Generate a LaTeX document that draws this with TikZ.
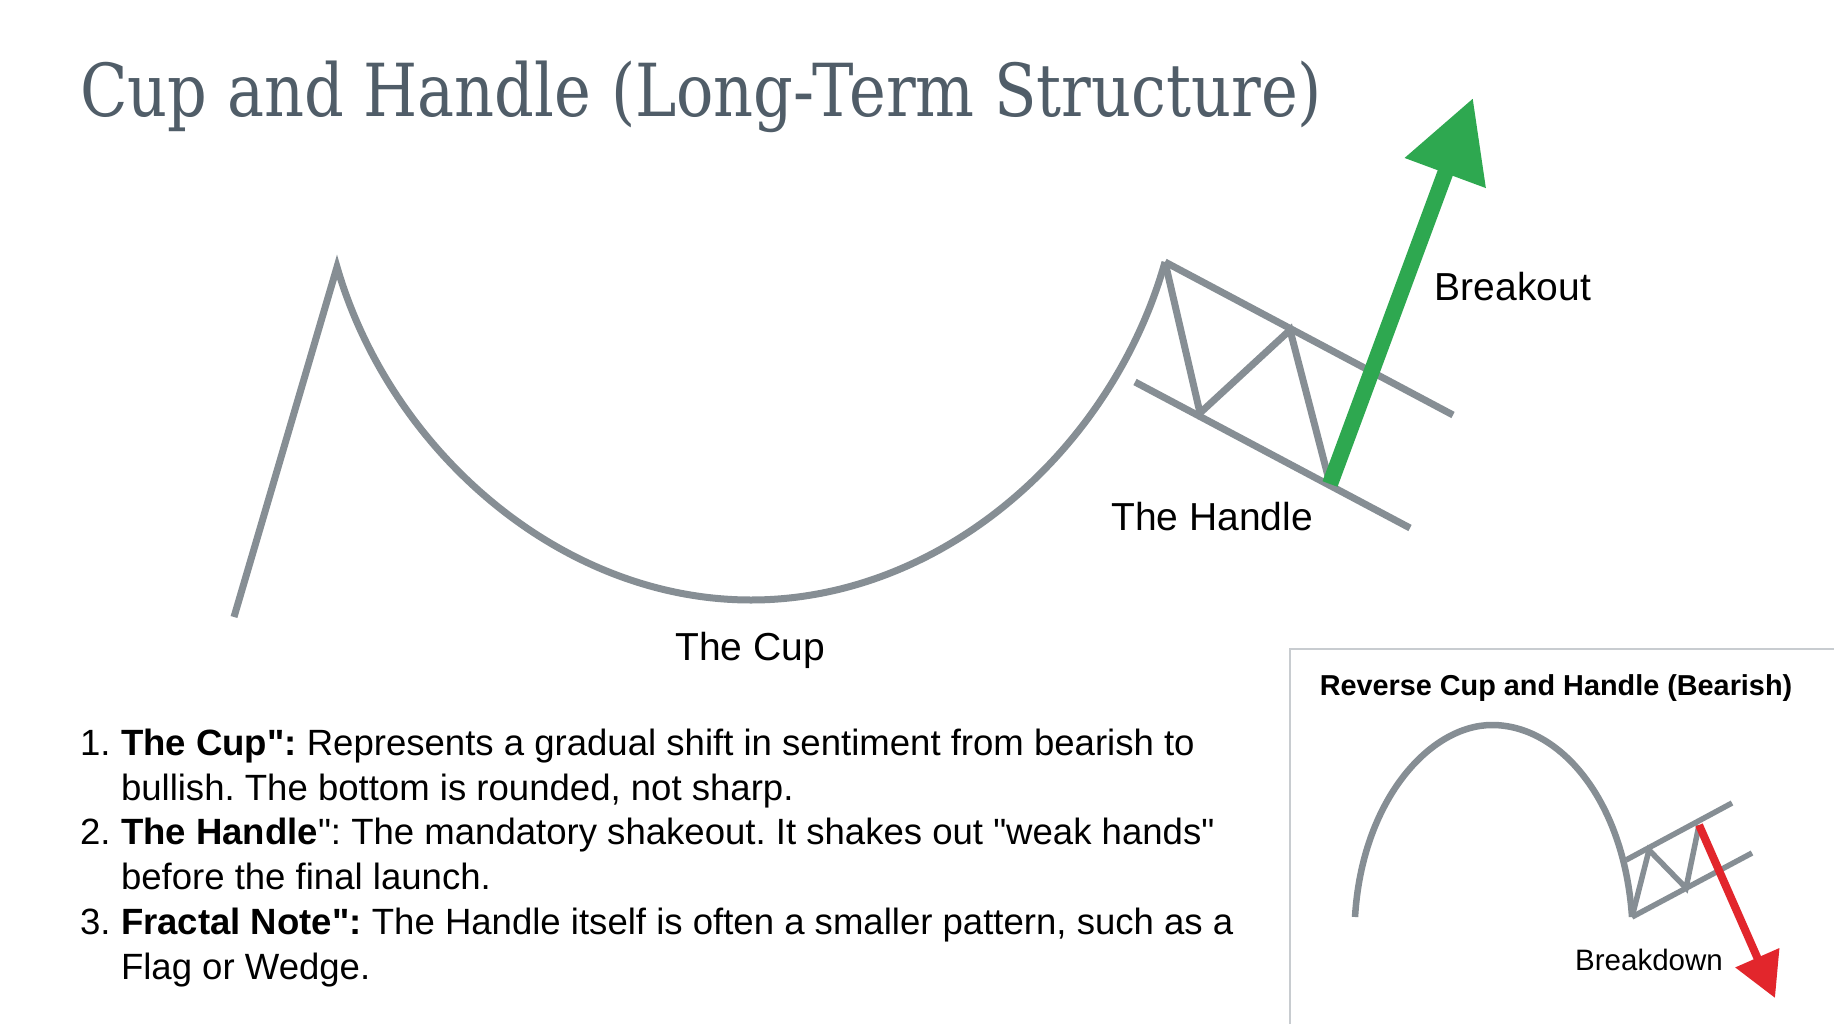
\documentclass[tikz,border=0pt]{standalone}
\usepackage{fontspec}
\setmainfont{Liberation Sans}[Ligatures=TeXOff]
\newfontfamily\slabfont[FakeStretch=0.85]{DejaVu Serif}
\usetikzlibrary{arrows.meta}
\definecolor{chartgray}{RGB}{134,142,148}
\definecolor{titlegray}{RGB}{80,93,104}
\definecolor{upgreen}{RGB}{46,168,80}
\definecolor{downred}{RGB}{226,38,44}
\definecolor{framegray}{RGB}{200,204,208}
\frenchspacing
\begin{document}
\begin{tikzpicture}[every node/.style={inner sep=0pt,outer sep=0pt},
    chart/.style={chartgray,line width=0.07cm,line join=miter},
    smallchart/.style={chartgray,line width=0.055cm,line join=miter},
    lbl/.style={font=\fontsize{11.1}{13}\selectfont}]
    \useasboundingbox (0,0) rectangle (18.34,10.24);
    \fill[white] (0,0) rectangle (18.34,10.24);
    \node[anchor=base west,text=titlegray,font=\slabfont\fontsize{20.8}{24}\selectfont] (title)
        at (0.80,9.07) {Cup and Handle (Long-Term Structure)};
    \begin{scope}
        \coordinate (lstart) at (2.34,4.07);
        \coordinate (lpeak) at (3.37,7.57);
        \coordinate (bottom) at (7.51,4.24);
        \coordinate (rpeak) at (11.65,7.62);
        \coordinate (zig1) at (12.00,6.11);
        \coordinate (zig2) at (12.90,6.94);
        \coordinate (zig3) at (13.30,5.40);
        \coordinate (topend) at (14.53,6.09);
        \coordinate (botstart) at (11.35,6.42);
        \coordinate (botend) at (14.10,4.96);
        \coordinate (uptip) at (14.73,9.26);
        \draw[chart] (lstart) -- (lpeak) .. controls (3.90,5.74) and (5.60,4.24) .. (bottom)
            .. controls (9.42,4.24) and (11.12,5.74) .. (rpeak);
        \draw[chart] (rpeak) -- (topend);
        \draw[chart] (botstart) -- (botend);
        \draw[chart] (rpeak) -- (zig1) -- (zig2) -- (zig3);
        \draw[upgreen,line width=0.16cm,-{Triangle[length=0.80cm,width=0.82cm]}] (zig3) -- (uptip);
        \node[lbl,anchor=base] (cuplbl) at (7.50,3.64) {The Cup};
        \node[lbl,anchor=base] (handlelbl) at (12.12,4.94) {The Handle};
        \node[lbl,anchor=base] (breakoutlbl) at (15.13,7.24) {Breakout};
    \end{scope}
    \node[anchor=base west,align=left,font=\fontsize{10.4}{12.72}\selectfont] (notes) at (0.80,0.45) {%
        \makebox[0.41cm][l]{1.}\textbf{The Cup":} Represents a gradual shift in sentiment from bearish to\\
        \hspace*{0.41cm}bullish. The bottom is rounded, not sharp.\\
        \makebox[0.41cm][l]{2.}\textbf{The Handle}": The mandatory shakeout. It shakes out "weak hands"\\
        \hspace*{0.41cm}before the final launch.\\
        \makebox[0.41cm][l]{3.}\textbf{Fractal Note":} The Handle itself is often a smaller pattern, such as a\\
        \hspace*{0.41cm}Flag or Wedge.};
    \begin{scope}
        \draw[framegray,line width=0.02cm] (12.90,0) |- (18.40,3.75);
        \node[anchor=base,font=\bfseries\fontsize{8.2}{10}\selectfont] (insettitle) at (15.56,3.29)
            {Reverse Cup and Handle (Bearish)};
        \coordinate (ia) at (13.55,1.07);
        \coordinate (itop) at (14.92,2.99);
        \coordinate (ib) at (16.32,1.07);
        \coordinate (ilowend) at (17.52,1.71);
        \coordinate (iupstart) at (16.26,1.64);
        \coordinate (iupend) at (17.32,2.21);
        \coordinate (izig1) at (16.49,1.74);
        \coordinate (izig2) at (16.86,1.36);
        \coordinate (izig3) at (16.99,1.99);
        \coordinate (downtip) at (17.75,0.26);
        \draw[smallchart,line width=0.065cm] (ia) .. controls (13.62,2.24) and (14.30,2.99) .. (itop)
            .. controls (15.60,2.99) and (16.24,2.24) .. (ib);
        \draw[smallchart] (ib) -- (ilowend);
        \draw[smallchart] (iupstart) -- (iupend);
        \draw[smallchart] (ib) -- (izig1) -- (izig2) -- (izig3);
        \draw[downred,line width=0.08cm,-{Triangle[length=0.44cm,width=0.46cm]}] (izig3) -- (downtip);
        \node[anchor=base,font=\fontsize{8.4}{10}\selectfont] (breakdownlbl) at (16.49,0.54) {Breakdown};
    \end{scope}
\end{tikzpicture}
\end{document}
